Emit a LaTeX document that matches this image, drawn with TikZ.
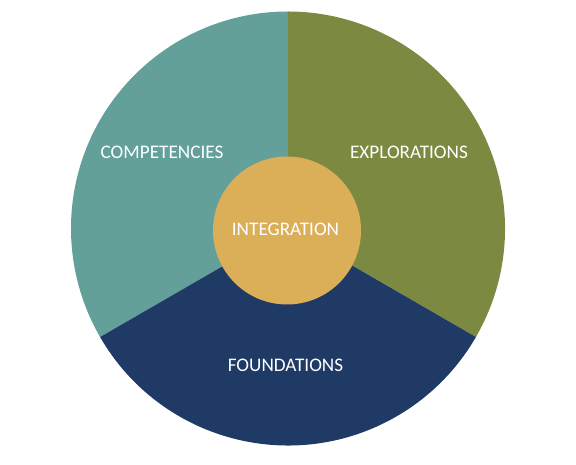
\documentclass[tikz,border=0pt]{standalone}
\usepackage{fontspec}
\setmainfont{Carlito}
\definecolor{cteal}{HTML}{64A09A}
\definecolor{colive}{HTML}{7C8A41}
\definecolor{cnavy}{HTML}{203A66}
\definecolor{cgold}{HTML}{DBAE58}
\tikzset{lbl/.style={text=white,font=\fontsize{19.2}{21}\selectfont,inner sep=0pt}}
\begin{document}
\begin{tikzpicture}[x=1pt,y=1pt]
\useasboundingbox (0,0) rectangle (576,465);
\coordinate (c) at (288,236.5);
\fill[cteal] (c) -- ++(90:217) arc[start angle=90,end angle=210,radius=217] -- cycle;
\fill[colive] (c) -- ++(-30:217) arc[start angle=-30,end angle=90,radius=217] -- cycle;
\fill[cnavy] (c) -- ++(210:217) arc[start angle=210,end angle=330,radius=217] -- cycle;
\node[circle,fill=cgold,minimum size=148pt,inner sep=0pt] (integ) at (287,234.5) {};
\node[lbl] (comp) at (162,312.5) {COMPETENCIES};
\node[lbl] (expl) at (409,312.5) {EXPLORATIONS};
\node[lbl] (inte) at (285.5,235.5) {INTEGRATION};
\node[lbl] (foun) at (285.5,100) {FOUNDATIONS};
\end{tikzpicture}
\end{document}
